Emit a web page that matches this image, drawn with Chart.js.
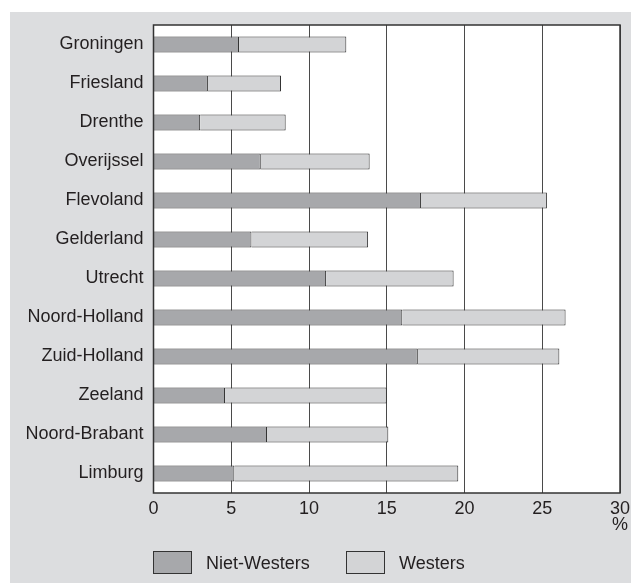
<!DOCTYPE html>
<html>
<head>
<meta charset="utf-8">
<script src="https://cdn.jsdelivr.net/npm/chart.js@4/dist/chart.umd.min.js"></script>
<style>
html,body{margin:0;padding:0;background:#ffffff;}
#wrap{position:relative;width:631px;height:583px;}
</style>
</head>
<body>
<div id="wrap"><canvas id="c" width="631" height="583"></canvas></div>
<script>
const provinces = ["Groningen","Friesland","Drenthe","Overijssel","Flevoland","Gelderland","Utrecht","Noord-Holland","Zuid-Holland","Zeeland","Noord-Brabant","Limburg"];
const nietWesters = [5.5, 3.5, 3.0, 6.9, 17.2, 6.3, 11.1, 16.0, 17.0, 4.6, 7.3, 5.2];
const westers     = [6.9, 4.7, 5.5, 7.0, 8.1, 7.5, 8.2, 10.5, 9.1, 10.4, 7.8, 14.4];
const xTicks = [0, 5, 10, 15, 20, 25, 30];
const seriesNames = ["Niet-Westers", "Westers"];

const FONT = "'Liberation Sans', Arial, Helvetica, sans-serif";
const TEXT = "#231f20";

const framePlugin = {
  id: 'frame',
  beforeDraw(chart) {
    const ctx = chart.ctx, a = chart.chartArea;
    ctx.save();
    ctx.fillStyle = '#ffffff';
    ctx.fillRect(0, 0, chart.width, chart.height);
    ctx.fillStyle = '#dcdddf';
    ctx.fillRect(10, 12, chart.width - 10, chart.height - 12);
    ctx.fillStyle = '#ffffff';
    ctx.fillRect(a.left, a.top, a.right - a.left, a.bottom - a.top);
    ctx.restore();
  },
  afterDraw(chart) {
    const ctx = chart.ctx, a = chart.chartArea;
    ctx.save();
    ctx.strokeStyle = '#333333';
    ctx.lineWidth = 1.5;
    ctx.strokeRect(a.left, a.top, a.right - a.left, a.bottom - a.top);
    const xs = chart.scales.x;
    ctx.fillStyle = TEXT;
    ctx.font = "18px " + FONT;
    ctx.textAlign = 'center';
    ctx.textBaseline = 'middle';
    ctx.fillText('%', xs.getPixelForValue(30), 525);
    const ds = chart.data.datasets;
    const boxX = [153, 346];
    ctx.textAlign = 'left';
    for (let i = 0; i < ds.length; i++) {
      ctx.fillStyle = ds[i].backgroundColor;
      ctx.fillRect(boxX[i], 551, 39, 23);
      ctx.strokeStyle = '#333333';
      ctx.lineWidth = 1;
      ctx.strokeRect(boxX[i] + 0.5, 551.5, 38, 22);
      ctx.fillStyle = TEXT;
      ctx.fillText(ds[i].label, boxX[i] + 53, 564);
    }
    ctx.restore();
  }
};

new Chart(document.getElementById('c'), {
  type: 'bar',
  data: {
    labels: provinces,
    datasets: [
      { label: seriesNames[0], data: nietWesters, backgroundColor: '#a7a8ab', borderColor: '#333333', borderWidth: 1, barPercentage: 0.41, categoryPercentage: 1 },
      { label: seriesNames[1], data: westers, backgroundColor: '#d3d4d6', borderColor: '#333333', borderWidth: 1, barPercentage: 0.41, categoryPercentage: 1 }
    ]
  },
  options: {
    indexAxis: 'y',
    responsive: false,
    animation: false,
    layout: { padding: { top: 25, right: 11, left: 0, bottom: 0 } },
    plugins: { legend: { display: false }, tooltip: { enabled: false } },
    scales: {
      x: {
        stacked: true,
        min: 0, max: 30,
        afterBuildTicks(scale) { scale.ticks = xTicks.map(v => ({ value: v })); },
        afterFit(scale) { scale.height = 90; scale.paddingRight = 0; scale.paddingLeft = 0; },
        grid: { color: '#4a4a4a', lineWidth: 1, drawTicks: false },
        border: { display: false },
        ticks: { color: TEXT, font: { size: 18, family: FONT }, padding: 5, maxRotation: 0 }
      },
      y: {
        stacked: true,
        afterFit(scale) { scale.width = 153.5; },
        grid: { display: false, drawTicks: false },
        border: { display: false },
        ticks: { color: TEXT, font: { size: 18, family: FONT }, padding: 10 }
      }
    }
  },
  plugins: [framePlugin]
});
</script>
</body>
</html>
